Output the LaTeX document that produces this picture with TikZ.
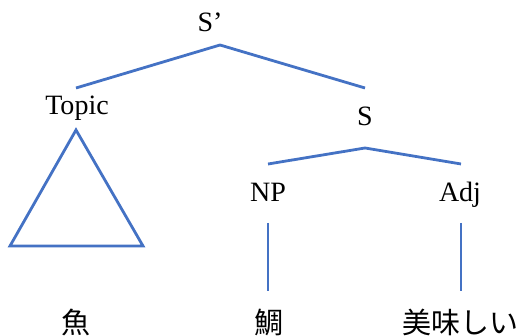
\documentclass[tikz,border=0pt]{standalone}
\usepackage{fontspec}
\setmainfont{Liberation Serif}
\newfontfamily\jpfont{Noto Sans CJK JP}
\definecolor{branch}{HTML}{4472C4}
\begin{document}
\begin{tikzpicture}[x=1pt,y=-1pt,
  cat/.style={inner sep=0pt,anchor=base,font=\fontsize{28}{30}\selectfont},
  word/.style={inner sep=0pt,anchor=base,font=\jpfont\fontsize{29}{30}\selectfont},
  edge/.style={draw=branch,line width=2.8pt,line cap=butt,line join=miter}]
\useasboundingbox (0,0) rectangle (518,336);

% category labels
\node[cat] (sbar) at (210,32) {S’};
\node[cat] (topic) at (77,115) {Topic};
\node[cat] (s) at (365,126) {S};
\node[cat] (np) at (268,202) {NP};
\node[cat] (adj) at (460,202) {Adj};

% words
\node[word] (sakana) at (76,333) {魚};
\node[word] (tai) at (269,333) {鯛};
\node[word,anchor=base west] (oishii) at (402,333) {美味しい};

% branch points
\coordinate (sbarTop) at (220,45);
\coordinate (topicEnd) at (76,88);
\coordinate (sEnd) at (365,88);
\coordinate (sTop) at (365,148);
\coordinate (npEnd) at (268,164);
\coordinate (adjEnd) at (461,164);
\coordinate (triTop) at (76,130);
\coordinate (triL) at (10,246);
\coordinate (triR) at (143,246);
\coordinate (npLow) at (268,223);
\coordinate (npLeaf) at (268,291);
\coordinate (adjLow) at (461,223);
\coordinate (adjLeaf) at (461,291);

% branches
\draw[edge] (topicEnd) -- (sbarTop) -- (sEnd);
\draw[edge] (npEnd) -- (sTop) -- (adjEnd);
\draw[edge] (triTop) -- (triL) -- (triR) -- cycle;
\draw[edge] (npLow) -- (npLeaf);
\draw[edge] (adjLow) -- (adjLeaf);
\end{tikzpicture}
\end{document}
